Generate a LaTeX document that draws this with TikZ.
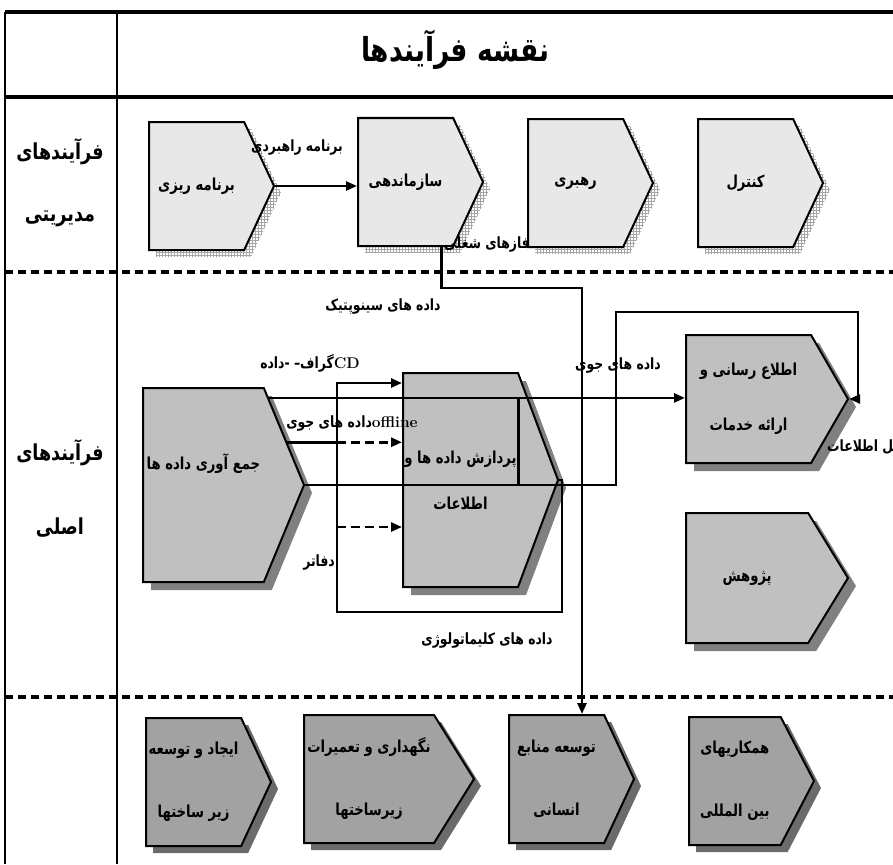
\documentclass[tikz,border=0pt]{standalone}
\usepackage{fontspec}
\newfontfamily\fa[Script=Arabic,FakeStretch=0.8]{DejaVu Sans}
\TeXXeTstate=1
\usetikzlibrary{arrows.meta,shapes.symbols,shadows,patterns}
\definecolor{lite}{HTML}{E8E8E8}
\definecolor{mid}{HTML}{C0C0C0}
\definecolor{dark}{HTML}{A2A2A2}
\newcommand{\fat}[1]{\beginR #1\endR}
\begin{document}
\begin{tikzpicture}[x=1pt,y=-1pt,>={Triangle[length=11pt,width=9pt]},
 sh/.style={signal,signal to=east,anchor=west,draw,line width=2pt,align=center,inner sep=1pt,font=\fa\bfseries\fontsize{16.5}{18}\selectfont},
 m/.style={sh,fill=lite,minimum width=125pt,minimum height=128pt,signal pointer angle=130,drop shadow={shadow xshift=7pt,shadow yshift=-7pt,opacity=1,fill=none,pattern=grid,pattern color=gray!70}},
 p/.style={sh,fill=mid,drop shadow={shadow xshift=8pt,shadow yshift=-8pt,opacity=1,fill=black!50}},
 s/.style={sh,fill=dark,minimum height=128pt,drop shadow={shadow xshift=7pt,shadow yshift=-7pt,opacity=1,fill=black!58}},
 c/.style={line width=2.6pt},
 lb/.style={font=\fa\bfseries\fontsize{15.5}{17}\selectfont,inner sep=1pt},
 rowlb/.style={font=\fa\bfseries\fontsize{22}{24}\selectfont,align=center},
 sep/.style={line width=3.5pt,dash pattern=on 8pt off 5pt}]
\useasboundingbox (0,0) rectangle (893,864);
% table frame
\draw[line width=3.5pt] (5,12) -- (893,12) (5,97) -- (893,97);
\draw[line width=1.6pt] (5,12) -- (5,864) (117,12) -- (117,864);
\draw[sep] (5,272) -- (893,272) (5,697) -- (893,697);
\node[font=\fa\bfseries\fontsize{33}{36}\selectfont] (title) at (455,50) {\fat{نقشه فرآیندها}};
\node[rowlb] (r1) at (60,183) {\fat{فرآیندهای}\\[38pt]\fat{مدیریتی}};
\node[rowlb] (r2) at (60,488) {\fat{فرآیندهای}\\[50pt]\fat{اصلی}};
% management
\node[m] (plan) at (148,186) {\fat{برنامه ریزی}};
\node[m] (org) at (357,182) {\fat{سازماندهی}};
\node[m] (lead) at (527,183) {\fat{رهبری}};
\node[m] (ctrl) at (697,183) {\fat{کنترل}};
% main
\node[p,minimum width=161pt,minimum height=194pt,signal pointer angle=135] (coll) at (142,485) {\fat{جمع آوری داده ها}\\[28pt]~};
\node[p,minimum width=155pt,minimum height=214pt,signal pointer angle=139] (proc) at (402,480) {\fat{پردازش داده ها و}\\[28pt]\fat{اطلاعات}};
\node[p,minimum width=162pt,minimum height=128pt,signal pointer angle=120] (info) at (685,399) {\fat{اطلاع رسانی و}\\[37pt]\fat{ارائه خدمات}};
\node[p,minimum width=162pt,minimum height=130pt,signal pointer angle=117] (res) at (685,578) {\fat{پژوهش}};
% support
\node[s,minimum width=125pt,signal pointer angle=130] (infra) at (145,782) {\fat{ایجاد و توسعه}\\[45pt]\fat{زیر ساختها}};
\node[s,minimum width=170pt,signal pointer angle=116] (maint) at (303,779) {\fat{نگهداری و تعمیرات}\\[45pt]\fat{زیرساختها}};
\node[s,minimum width=125pt,signal pointer angle=130] (hr) at (508,779) {\fat{توسعه منابع}\\[45pt]\fat{انسانی}};
\node[s,minimum width=125pt,signal pointer angle=125] (intl) at (688,781) {\fat{همکاریهای}\\[45pt]\fat{بین المللی}};
% connectors
\draw[c,->] (plan.east) -- (plan.east -| org.west);
\coordinate (syn) at (582,288);
\draw[c,->] ([xshift=36pt]org.south) |- (syn) -- (syn |- hr.north);
\draw[c,->] (coll.53) -- (coll.53 -| info.west);
\coordinate (wxA) at (616,312); \coordinate (wxB) at (858,312);
\draw[c,->] (coll.east) -| (wxA) -- (wxB) |- (info.east);
\coordinate (pr) at ([xshift=58pt]proc.center);
\draw[c] (pr |- coll.53) -- (pr |- coll.east);
\coordinate (clA) at (562,612); \coordinate (clB) at (337,612);
\draw[c,->] (proc.east) -| (clA) -- (clB) |- ([yshift=97pt]proc.west);
\coordinate (d1) at (clB |- coll.27);
\draw[c] (coll.27) -- (d1);
\draw[c,dash pattern=on 9pt off 5pt,->] (d1) -- (d1 -| proc.west);
\coordinate (d2) at ([yshift=-47pt]proc.west);
\draw[c,dash pattern=on 9pt off 5pt,->] (clB |- d2) -- (d2);
% labels
\node[lb] (strat) at (297,148) {\fat{برنامه راهبردی}};
\node[lb] (job) at (487,245) {\fat{فازهای شغلی}};
\node[lb] (synl) at (383,307) {\fat{داده های سینوپتیک}};
\node[lb] (cdl) at (310,363) {\beginR\beginL{\rmfamily CD}\endL گراف– -داده\endR};
\node[lb] (offl) at (352,423) {\beginR\beginL{\rmfamily offline}\endL داده های جوی\endR};
\node[lb,anchor=east] (daf) at (336,562) {\fat{دفاتر}};
\node[lb] (clim) at (487,640) {\fat{داده های کلیماتولوژی}};
\node[lb] (wx) at (618,365) {\fat{داده های جوی}};
\node[lb,anchor=west] (tools) at (826,447) {\fat{وسایل اطلاعات}};
\end{tikzpicture}
\end{document}
